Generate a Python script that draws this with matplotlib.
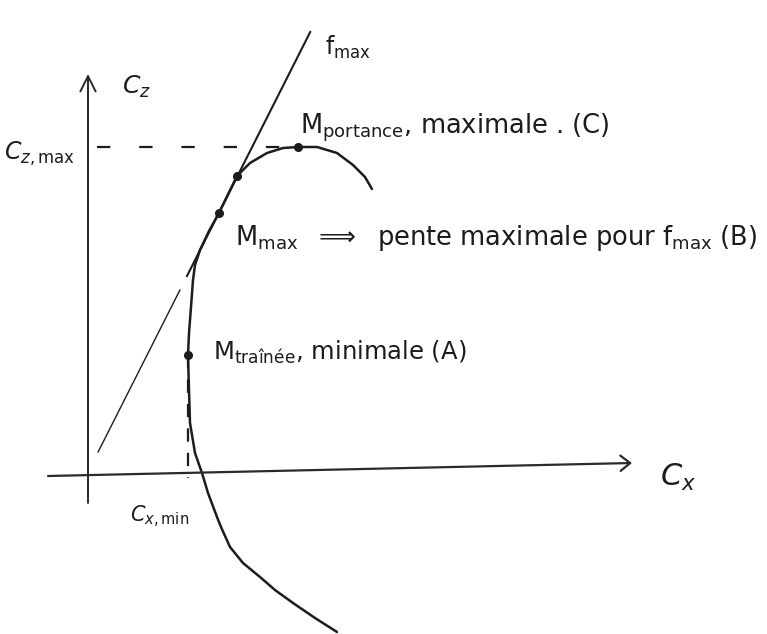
import matplotlib
matplotlib.use("Agg")
import matplotlib.pyplot as plt
import numpy as np

# ------------------------------------------------------------------
# polar curve Cz = f(Cx) (arbitrary units)
# ------------------------------------------------------------------
polar_cx = [2.49, 2.27, 2.05, 1.87, 1.72, 1.55, 1.42, 1.33, 1.29, 1.20,
            1.14, 1.07, 1.02, 1.01, 1.00, 1.01, 1.03, 1.05, 1.07, 1.12,
            1.21, 1.31, 1.49, 1.62, 1.79, 1.95, 2.10, 2.29, 2.49, 2.65,
            2.77, 2.84]
polar_cz = [-1.60, -1.46, -1.31, -1.18, -1.05, -0.91, -0.75, -0.55, -0.45, -0.21,
            -0.01, 0.19, 0.49, 0.82, 1.17, 1.39, 1.65, 1.92, 2.07, 2.22,
            2.41, 2.59, 2.96, 3.09, 3.19, 3.24, 3.25, 3.25, 3.19, 3.07,
            2.95, 2.83]

# remarkable points
CX_MIN = 1.00          # M trainee minimale (A)
CZ_AT_CX_MIN = 1.17
CZ_MAX = 3.25          # M portance maximale (C)
CX_AT_CZ_MAX = 2.10
MMAX = (1.31, 2.59)    # M max (B)
TANGENT_PT = (1.49, 2.96)

# tangent through origin (f max)
FMAX_SLOPE = 1.98
FMAX_SOLID = (1.96, 4.40)   # Cz range, solid part
FMAX_DASHED = (0.20, 1.82)  # Cz range, dashed part

INK = "#1c1c1c"

fig = plt.figure(figsize=(7.67, 6.34), dpi=100)
fig.patch.set_facecolor("white")
ax = fig.add_axes([0, 0, 1, 1])
ax.set_xlim(-0.88, 6.79)
ax.set_ylim(-1.62, 4.72)
ax.axis("off")

# axes with arrows
ax.annotate("", xy=(5.44, 0.09), xytext=(-0.40, -0.04),
            arrowprops=dict(arrowstyle="->,head_length=0.7,head_width=0.55",
                            color="#2a2a2a", lw=1.6, shrinkA=0, shrinkB=0))
ax.annotate("", xy=(0.0, 3.98), xytext=(0.0, -0.31),
            arrowprops=dict(arrowstyle="->,head_length=1.1,head_width=0.55",
                            color="#2a2a2a", lw=1.4, shrinkA=0, shrinkB=0))

# polar curve
ax.plot(polar_cx, polar_cz, color=INK, lw=1.8, solid_capstyle="round",
        solid_joinstyle="round")

# tangent f max
cz_s = np.array(FMAX_SOLID)
ax.plot(cz_s / FMAX_SLOPE, cz_s, color=INK, lw=1.5)
cz_d = np.array(FMAX_DASHED)
ax.plot(cz_d / FMAX_SLOPE, cz_d, color=INK, lw=1.0)

# dashed guides
ax.plot([0.09, CX_AT_CZ_MAX], [CZ_MAX, CZ_MAX], color=INK, lw=1.6,
        dashes=(6, 13))
ax.plot([CX_MIN, CX_MIN], [CZ_AT_CX_MIN, -0.06], color=INK, lw=1.6,
        dashes=(6, 5))

# points
pts_x = [CX_AT_CZ_MAX, TANGENT_PT[0], MMAX[0], CX_MIN]
pts_y = [CZ_MAX, TANGENT_PT[1], MMAX[1], CZ_AT_CX_MIN]
ax.plot(pts_x, pts_y, "o", color=INK, ms=5.5)

# labels
ax.text(0.34, 3.85, r"$C_z$", fontsize=18, color=INK, va="center")
ax.text(5.72, -0.05, r"$C_x$", fontsize=22, color=INK, va="center")
ax.text(-0.84, 3.18, r"$C_{z,\mathrm{max}}$", fontsize=17, color=INK, va="center")
ax.text(0.42, -0.45, r"$C_{x,\mathrm{min}}$", fontsize=15, color=INK, va="center")
ax.text(2.37, 4.25, r"f$_{\mathrm{max}}$", fontsize=17, color=INK, va="center")

ax.text(2.12, 3.44, r"M$_{\mathrm{portance}}$, maximale . (C)",
        fontsize=18.5, color=INK, va="center")
ax.text(1.47, 2.34,
        r"M$_{\mathrm{max}}$  $\Longrightarrow$  pente maximale pour f$_{\mathrm{max}}$ (B)",
        fontsize=18.5, color=INK, va="center")
ax.text(1.25, 1.20, r"M$_{\mathrm{traînée}}$, minimale (A)",
        fontsize=17.5, color=INK, va="center")

fig.savefig("out.png", dpi=100, facecolor="white")
